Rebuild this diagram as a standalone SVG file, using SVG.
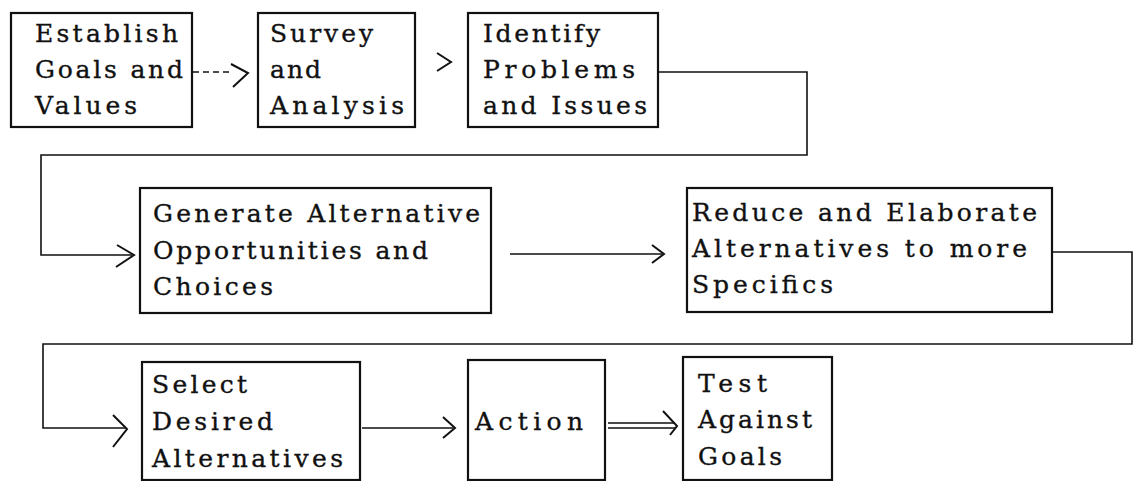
<svg xmlns="http://www.w3.org/2000/svg" width="1134" height="481" viewBox="0 0 1134 481">
<style>
.box{fill:#fff;stroke:#111;stroke-width:2.2}
.t{font-family:"DejaVu Serif","Liberation Serif",serif;font-size:25px;fill:#111;stroke:#111;stroke-width:0.35}
.c{fill:none;stroke:#111;stroke-width:1.6}
.h{fill:none;stroke:#111;stroke-width:2;stroke-linejoin:miter}
</style>
<rect width="1134" height="481" fill="#fff"/>
<g id="connectors">
<path class="c" d="M193 72 H231" stroke-dasharray="6 4"/>
<path class="h" d="M231 64 L248 73 L233 87"/>
<path class="h" d="M437 53 L451 62 L437 71"/>
<path class="c" d="M659 72 H807 V155 H41 V255 H132"/>
<path class="h" d="M117 245 L134 255 L116 267" stroke-width="2.6"/>
<path class="c" d="M510 254 H662"/>
<path class="h" d="M652 245 L664 254 L652 263"/>
<path class="c" d="M1053 252 H1132 V344 H43 V428 H125" stroke-width="2"/>
<path class="h" d="M113 415 L127 429 L113 447"/>
<path class="c" d="M362 428 H453"/>
<path class="h" d="M443 417 L455 428 L443 438"/>
<path class="c" d="M608 423 H675 M608 428 H675"/>
<path class="h" d="M663 411 L677 426 L670 435"/>
</g>
<g id="n1">
<rect class="box" x="11" y="13" width="181" height="114"/>
<text class="t" x="35" y="42" textLength="143" lengthAdjust="spacing">Establish</text>
<text class="t" x="35" y="78" textLength="148" lengthAdjust="spacing">Goals and</text>
<text class="t" x="35" y="114" textLength="102" lengthAdjust="spacing">Values</text>
</g>
<g id="n2">
<rect class="box" x="258" y="13" width="157" height="114"/>
<text class="t" x="270" y="42" textLength="103" lengthAdjust="spacing">Survey</text>
<text class="t" x="270" y="78" textLength="51" lengthAdjust="spacing">and</text>
<text class="t" x="270" y="114" textLength="134" lengthAdjust="spacing">Analysis</text>
</g>
<g id="n3">
<rect class="box" x="468" y="13" width="190" height="114"/>
<text class="t" x="483" y="42" textLength="117" lengthAdjust="spacing">Identify</text>
<text class="t" x="483" y="78" textLength="152" lengthAdjust="spacing">Problems</text>
<text class="t" x="483" y="114" textLength="164" lengthAdjust="spacing">and Issues</text>
</g>
<g id="n4">
<rect class="box" x="140" y="188" width="351" height="125"/>
<text class="t" x="153" y="222" textLength="327" lengthAdjust="spacing">Generate Alternative</text>
<text class="t" x="153" y="259" textLength="275" lengthAdjust="spacing">Opportunities and</text>
<text class="t" x="153" y="295" textLength="120" lengthAdjust="spacing">Choices</text>
</g>
<g id="n5">
<rect class="box" x="687" y="188" width="365" height="124"/>
<text class="t" x="692" y="221" textLength="345" lengthAdjust="spacing">Reduce and Elaborate</text>
<text class="t" x="692" y="257" textLength="335" lengthAdjust="spacing">Alternatives to more</text>
<text class="t" x="692" y="293" textLength="141" lengthAdjust="spacing">Specifics</text>
</g>
<g id="n6">
<rect class="box" x="142" y="362" width="218" height="118"/>
<text class="t" x="152" y="393" textLength="95" lengthAdjust="spacing">Select</text>
<text class="t" x="152" y="430" textLength="121" lengthAdjust="spacing">Desired</text>
<text class="t" x="152" y="467" textLength="191" lengthAdjust="spacing">Alternatives</text>
</g>
<g id="n7">
<rect class="box" x="468" y="360" width="137" height="120"/>
<text class="t" x="475" y="430" textLength="108" lengthAdjust="spacing">Action</text>
</g>
<g id="n8">
<rect class="box" x="683" y="357" width="149" height="123"/>
<text class="t" x="698" y="392" textLength="69" lengthAdjust="spacing">Test</text>
<text class="t" x="698" y="428" textLength="114" lengthAdjust="spacing">Against</text>
<text class="t" x="698" y="465" textLength="84" lengthAdjust="spacing">Goals</text>
</g>
</svg>
